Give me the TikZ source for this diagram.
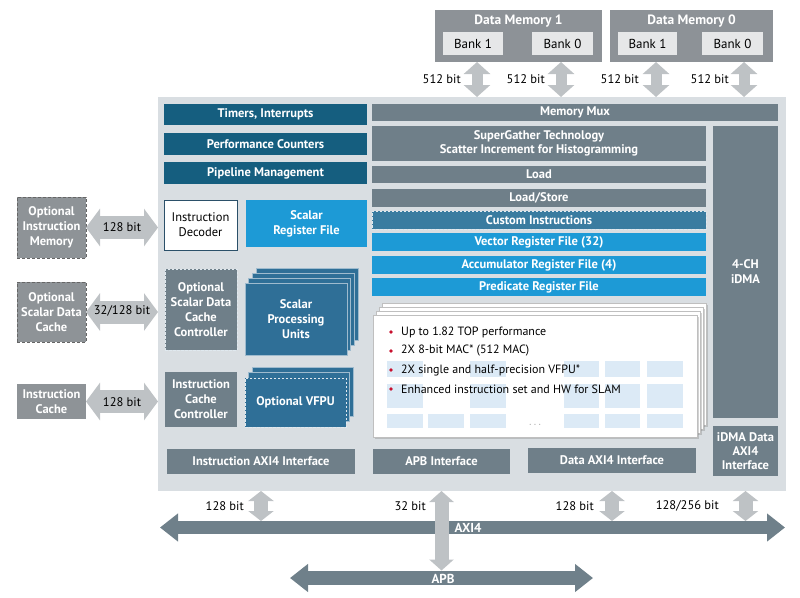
\documentclass[tikz,border=0pt]{standalone}
\usepackage{fontspec}
\setmainfont{PT Sans}
\usetikzlibrary{arrows.meta,shadows}
\definecolor{cMain}{HTML}{D9DEE2}
\definecolor{cTeal}{HTML}{155E7F}
\definecolor{cSlate}{HTML}{6F7F89}
\definecolor{cBlue}{HTML}{1D9AD6}
\definecolor{cMid}{HTML}{2F6F97}
\definecolor{cCust}{HTML}{3A7CA0}
\definecolor{cExt}{HTML}{8E9397}
\definecolor{cMem}{HTML}{8D9297}
\definecolor{cBank}{HTML}{E6E7E8}
\definecolor{cLArrow}{HTML}{BEC2C5}
\definecolor{cBus}{HTML}{6F808A}
\definecolor{cTile}{HTML}{DCEAF6}
\definecolor{cRed}{HTML}{C8102E}
\definecolor{cDec}{HTML}{2B5069}
\definecolor{cEdge}{HTML}{9FBBCE}
\newcommand\rbox[6]{\node[#6, minimum width={((#4)-(#2))*1pt}, minimum height={((#5)-(#3))*1pt}] (#1) at ({((#2)+(#4))/2},{((#3)+(#5))/2})}
\begin{document}
\begin{tikzpicture}[x=1pt,y=-1pt,
  box/.style={inner sep=0pt, outer sep=0pt, align=center, text=white, font=\bfseries\fontsize{12.5}{15}\selectfont},
  tealbox/.style={box, fill=cTeal},
  slatebox/.style={box, fill=cSlate},
  bluebox/.style={box, fill=cBlue},
  midbox/.style={box, fill=cMid},
  extbox/.style={box, fill=cExt},
  dashw/.style={draw=white!85!cMid, dash pattern=on 2.5pt off 1.5pt, line width=0.8pt},
  dashd/.style={draw=black!60, dash pattern=on 3pt off 2pt, line width=0.8pt},
  stackbox/.style={fill=cMid, draw=cEdge, line width=0.5pt, inner sep=0pt, outer sep=0pt},
  card/.style={fill=white, draw=black!25, line width=0.5pt, inner sep=0pt, outer sep=0pt,
     drop shadow={shadow xshift=1.5pt, shadow yshift=-1.5pt, opacity=0.35}},
  bank/.style={fill=cBank, inner sep=0pt, outer sep=0pt, font=\fontsize{13}{14}\selectfont},
  memfill/.style={fill=cMem, inner sep=0pt, outer sep=0pt},
  lbl/.style={inner sep=0pt, font=\fontsize{12.5}{14}\selectfont},
  bullettext/.style={inner sep=0pt, anchor=west, font=\fontsize{12}{14}\selectfont},
  lgh/.style={draw=cLArrow, line width=23pt, {Triangle[width=37pt,length=14pt]}-{Triangle[width=37pt,length=14pt]}},
  lgmem/.style={draw=cLArrow, line width=11pt, {Triangle[width=26pt,length=12pt]}-{Triangle[width=26pt,length=12pt]}},
  lgv/.style={draw=cLArrow, line width=14pt, {Triangle[width=25pt,length=10pt]}-{Triangle[width=25pt,length=10pt]}},
  lgapb/.style={draw=cLArrow, line width=14pt, {Triangle[width=24pt,length=11pt]}-{Triangle[width=24pt,length=11pt]}},
  bus/.style={draw=cBus, line width=13.5pt, {Triangle[width=27pt,length=18pt]}-{Triangle[width=27pt,length=18pt]}},
  buslbl/.style={inner sep=0pt, text=white, font=\bfseries\fontsize{13}{15}\selectfont},
  memlbl/.style={inner sep=0pt, text=white, font=\bfseries\fontsize{13.5}{15}\selectfont}
]
\useasboundingbox (0,0) rectangle (800,597);

% ---------- data memories ----------
\rbox{dm1}{435}{10}{602}{62}{memfill}{};
\rbox{dm0}{610}{10}{773}{62}{memfill}{};
\node[memlbl] (dm1t) at (518.5,21) {Data Memory 1};
\node[memlbl] (dm0t) at (691.5,21) {Data Memory 0};
\rbox{b11}{443}{32}{503}{55}{bank}{Bank 1};
\rbox{b10}{532}{32}{593}{55}{bank}{Bank 0};
\rbox{b01}{618}{32}{677}{55}{bank}{Bank 1};
\rbox{b00}{702}{32}{763}{55}{bank}{Bank 0};

% ---------- main box ----------
\rbox{main}{158}{97}{786}{491}{fill=cMain, inner sep=0pt, outer sep=0pt}{};

% memory arrows
\coordinate (ma1) at (477,62);
\coordinate (ma2) at (561,62);
\coordinate (ma3) at (656,62);
\coordinate (ma4) at (744,62);
\draw[lgmem] (ma1) -- (ma1 |- main.north);
\draw[lgmem] (ma2) -- (ma2 |- main.north);
\draw[lgmem] (ma3) -- (ma3 |- main.north);
\draw[lgmem] (ma4) -- (ma4 |- main.north);
\node[lbl, anchor=east] (ml1) at (461,79) {512 bit};
\node[lbl, anchor=east] (ml2) at (545,79) {512 bit};
\node[lbl, anchor=east] (ml3) at (639,79) {512 bit};
\node[lbl, anchor=east] (ml4) at (729,79) {512 bit};

% upper left teal bars
\rbox{tim}{164}{104}{367}{125}{tealbox}{Timers, Interrupts};
\rbox{perf}{164}{133}{367}{155}{tealbox}{Performance Counters};
\rbox{pipe}{164}{162}{367}{184}{tealbox}{Pipeline Management};

% right column
\rbox{mux}{372}{104}{778}{121}{slatebox}{Memory Mux};
\rbox{sg}{372}{126}{706}{161}{slatebox}{SuperGather Technology\\[-1pt]Scatter Increment for Histogramming};
\rbox{load}{372}{166}{706}{183}{slatebox}{Load};
\rbox{ls}{372}{189}{706}{207}{slatebox}{Load/Store};
\rbox{ci}{372}{211}{706}{229}{box, fill=cCust, dashw}{Custom Instructions};
\rbox{vrf}{372}{233}{706}{251}{bluebox}{Vector Register File (32)};
\rbox{arf}{372}{256}{706}{274}{bluebox}{Accumulator Register File (4)};
\rbox{prf}{372}{278}{706}{296}{bluebox}{Predicate Register File};
\rbox{dma}{713}{126}{778}{418}{slatebox}{4-CH\\iDMA};
\rbox{dmai}{713}{426}{778}{476}{slatebox}{iDMA Data\\[-1pt]AXI4\\[-1pt]Interface};

% left column inside
\rbox{idec}{164}{200}{237}{250}{fill=white, draw=cDec, line width=0.8pt, inner sep=0pt, outer sep=0pt, align=center, font=\fontsize{12.5}{15}\selectfont}{Instruction\\Decoder};
\rbox{srf}{246}{200}{367}{247}{bluebox}{Scalar\\Register File};
\rbox{osdc}{165}{269}{237}{350}{slatebox, dashw}{Optional\\Scalar Data\\Cache\\Controller};
\rbox{icc}{165}{372}{237}{427}{slatebox}{Instruction\\Cache\\Controller};

% scalar processing units stack
\rbox{spu3}{256.1}{268}{358.1}{340}{stackbox}{};
\rbox{spu2}{252.4}{273}{354.4}{345}{stackbox}{};
\rbox{spu1}{248.7}{278}{350.7}{350}{stackbox}{};
\rbox{spu}{245}{283}{347}{355}{midbox, draw=cEdge, line width=0.5pt}{Scalar\\Processing\\Units};

% optional VFPU stack
\rbox{vf2}{252}{367}{353}{416}{stackbox}{};
\rbox{vf1}{248.5}{372.5}{349.5}{421.5}{stackbox}{};
\rbox{vfpu}{245}{378}{346}{427}{midbox, dashw}{Optional VFPU};

% SIMD cards
\rbox{card3}{382}{303}{706}{425}{card}{};
\rbox{card2}{379}{307}{703}{429}{card}{};
\rbox{card1}{376}{311}{700}{433}{card}{};
\rbox{simd}{373}{315}{697}{437}{card}{};
% tiles
\foreach \xa/\xb in {387/423, 470/506, 564/599, 605/640, 647/683}
  \fill[cTile] (\xa,361) rectangle (\xb,377);
\foreach \xa/\xb in {387/423, 470/506, 564/599, 605/640, 647/683}
  \fill[cTile] (\xa,384) rectangle (\xb,408);
\foreach \xa/\xb in {387/423, 428/464, 470/506, 564/599, 605/640, 647/683}
  \fill[cTile] (\xa,414) rectangle (\xb,428);
\node[inner sep=0pt, text=black!45, font=\fontsize{9}{10}\selectfont] (dots) at (535,426) {· · ·};
% bullets
\foreach \yy in {332,351,370,389}
  \fill[cRed] (391,\yy) circle (1.8);
\node[bullettext] (t1) at (401,332) {Up to 1.82 TOP performance};
\node[bullettext] (t2) at (401,351) {2X 8-bit MAC* (512 MAC)};
\node[bullettext] (t3) at (401,370) {2X single and half-precision VFPU*};
\node[bullettext] (t4) at (401,389) {Enhanced instruction set and HW for SLAM};

% interfaces
\rbox{iaxi}{167}{449}{355}{474}{slatebox}{Instruction AXI4 Interface};
\rbox{apbi}{373}{449}{510}{474}{slatebox}{APB Interface};
\rbox{daxi}{528}{448}{696}{473}{slatebox}{Data AXI4 Interface};

% ---------- external left ----------
\rbox{oim}{17}{197}{86}{258}{extbox, dashd}{Optional\\Instruction\\Memory};
\rbox{osd}{17}{282}{86}{342}{extbox, dashd}{Optional\\Scalar Data\\Cache};
\rbox{ic}{17}{384}{86}{419}{extbox}{Instruction\\Cache};
\draw[lgh] (oim.east) -- (oim.east -| main.west);
\draw[lgh] (osd.east) -- (osd.east -| main.west);
\draw[lgh] (ic.east) -- (ic.east -| main.west);
\node[lbl] (al1) at (122,227) {128 bit};
\node[lbl] (al2) at (122,311) {32/128 bit};
\node[lbl] (al3) at (122,402) {128 bit};

% ---------- buses ----------
\coordinate (axiL) at (160,527.5);
\coordinate (axiR) at (785,527.5);
\coordinate (apbL) at (290,578);
\coordinate (apbR) at (593,578);
\coordinate (axitop) at (0,521);
\coordinate (apbtop) at (0,570.5);
\draw[bus] (axiL) -- (axiR);
\draw[bus] (apbL) -- (apbR);
\node[buslbl] (axilbl) at (468,528) {AXI4};
\node[buslbl] (apblbl) at (443,579) {APB};

\draw[lgv] (iaxi |- main.south) -- (iaxi |- axitop);
\draw[lgv] (daxi |- main.south) -- (daxi |- axitop);
\draw[lgv] (dmai |- main.south) -- (dmai |- axitop);
\draw[lgapb] (apbi |- main.south) -- (apbi |- apbtop);

\node[lbl, anchor=east] (bl1) at (244,506) {128 bit};
\node[lbl, anchor=east] (bl2) at (426,506) {32 bit};
\node[lbl, anchor=east] (bl3) at (594,506) {128 bit};
\node[lbl, anchor=east] (bl4) at (719,506) {128/256 bit};
\end{tikzpicture}
\end{document}
